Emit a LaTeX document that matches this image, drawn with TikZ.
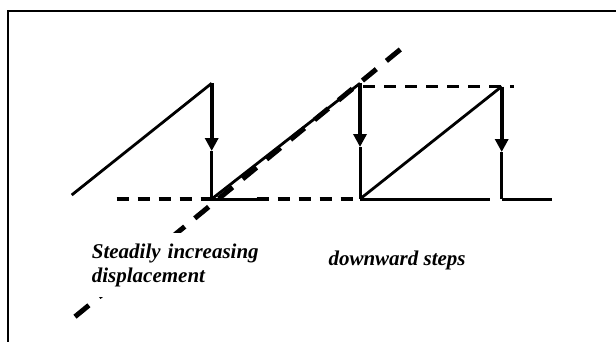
\documentclass[tikz,border=0pt]{standalone}
\usepackage{fontspec}
\setmainfont{Liberation Serif}
\usetikzlibrary{arrows.meta}
\begin{document}
\begin{tikzpicture}[x=1pt,y=-1pt,
  frame/.style={line width=2pt},
  ramp/.style={line width=2.8pt},
  upper/.style={line width=4.2pt,-{Triangle[length=13pt,width=13pt]}},
  lower/.style={line width=3pt},
  base/.style={line width=3pt},
  hdash/.style={line width=3.4pt,dash pattern=on 12pt off 9pt},
  diag/.style={line width=5pt,dash pattern=on 18pt off 13pt},
  lbl/.style={font=\fontsize{21}{23.7}\selectfont\bfseries\itshape,inner sep=0pt}
]
\useasboundingbox (0,0) rectangle (616,341);
% frame
\coordinate (fbl) at (8.3,345);
\coordinate (ftl) at (8.3,11);
\coordinate (ftr) at (620,11);
\draw[frame] (fbl) -- (ftl) -- (ftr);

% key points
\coordinate (r1s) at (71.7,195);
\coordinate (p1) at (211.7,83.3);
\coordinate (a1) at (211.7,151);
\coordinate (b1) at (211.7,199);
\coordinate (d1s) at (116.7,199);
\coordinate (s1e) at (256.7,199);
\coordinate (p2) at (360,83.3);
\coordinate (a2) at (360,147);
\coordinate (b2) at (360,199);
\coordinate (s2e) at (490,199);
\coordinate (t2) at (363,86.5);
\coordinate (tend) at (514,86.5);
\coordinate (p3) at (501.7,86.5);
\coordinate (a3) at (501.7,152);
\coordinate (b3) at (501.7,199);
\coordinate (s3e) at (551.7,199);
\coordinate (dbot) at (75,316.7);
\coordinate (dtop) at (401.7,48.3);

% ramps
\draw[ramp] (r1s) -- (p1);
\draw[ramp] (b1) -- (p2);
\draw[ramp] (b2) -- (p3);

% horizontals
\draw[hdash] (d1s) -- (b1);
\draw[base] (b1) -- (s1e);
\draw[hdash] (s1e) -- (b2);
\draw[base] (b2) -- (s2e);
\draw[base] (b3) -- (s3e);
\draw[hdash,line width=3pt] (t2) -- (tend);

% downward steps
\draw[upper] (p1) -- (a1);
\draw[lower] (a1) -- (b1);
\draw[upper] (p2) -- (a2);
\draw[lower] (a2) -- (b2);
\draw[upper] (p3) -- (a3);
\draw[lower] (a3) -- (b3);

% steadily increasing displacement
\draw[diag] (dbot) -- (dtop);

% labels
\node[lbl,fill=white,inner xsep=2pt,inner ysep=10.5pt,anchor=base west,align=left,text width=175pt]
  (steady) at ([xshift=-2pt]91.7,258.3) {Steadily increasing\\displacement};
\node[lbl,anchor=base west] (down) at (328.3,265) {downward steps};
\end{tikzpicture}
\end{document}
